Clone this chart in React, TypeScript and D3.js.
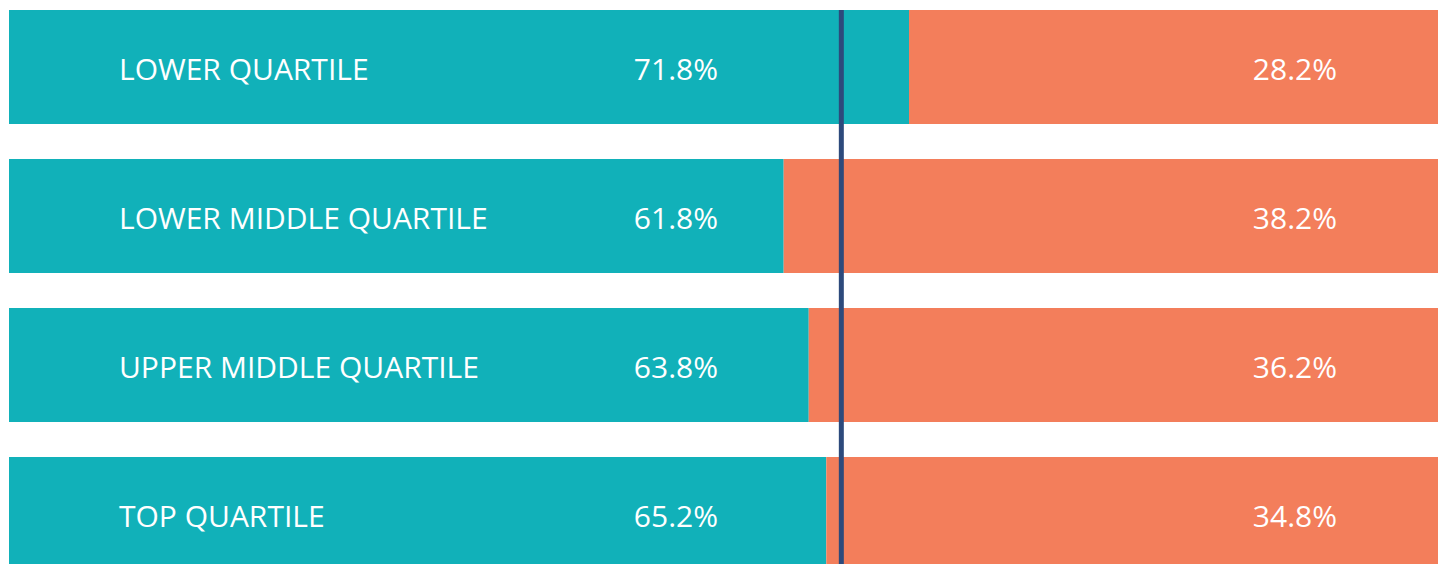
import React from "react";
import * as d3 from "d3";

const categories = ["LOWER QUARTILE", "LOWER MIDDLE QUARTILE", "UPPER MIDDLE QUARTILE", "TOP QUARTILE"];
const tealValues = [71.8, 61.8, 63.8, 65.2];
const orangeValues = [28.2, 38.2, 36.2, 34.8];
const referenceValue = 66.4;

const W = 1438;
const H = 564;
const TEAL = "#11b1b9";
const ORANGE = "#f37e5b";
const NAVY = "#2d4a7c";
const FONT = "'Open Sans', 'Noto Sans', sans-serif";

export default function App() {
  const x = d3.scaleLinear().domain([0, 114]).range([9, W]);
  const y = d3
    .scaleBand<string>()
    .domain(categories)
    .range([10, 10 + 149 * 3 + 114])
    .paddingInner(35 / 149)
    .paddingOuter(0)
    .align(0);
  const bw = y.bandwidth();

  return (
    <svg
      width={W}
      height={H}
      style={{ position: "absolute", left: 0, top: 0, background: "#fff" }}
      fontFamily={FONT}
      fontWeight={500}
    >
      {categories.map((c, i) => {
        const y0 = y(c)!;
        const cy = y0 + bw / 2;
        return (
          <g key={c}>
            <rect x={x(0)} y={y0} width={x(tealValues[i]) - x(0)} height={bw} fill={TEAL} />
            <rect
              x={x(tealValues[i])}
              y={y0}
              width={x.range()[1] - x(tealValues[i])}
              height={bw}
              fill={ORANGE}
            />
            <text x={119} y={cy} dy="0.42em" fill="#fff" fontSize={30}>
              {c}
            </text>
            <text x={718} y={cy} dy="0.42em" fill="#fff" fontSize={30} textAnchor="end">
              {tealValues[i].toFixed(1)}%
            </text>
            <text x={1337} y={cy} dy="0.42em" fill="#fff" fontSize={30} textAnchor="end">
              {orangeValues[i].toFixed(1)}%
            </text>
          </g>
        );
      })}
      <line
        x1={x(referenceValue)}
        x2={x(referenceValue)}
        y1={y(categories[0])!}
        y2={H}
        stroke={NAVY}
        strokeWidth={5}
      />
    </svg>
  );
}
